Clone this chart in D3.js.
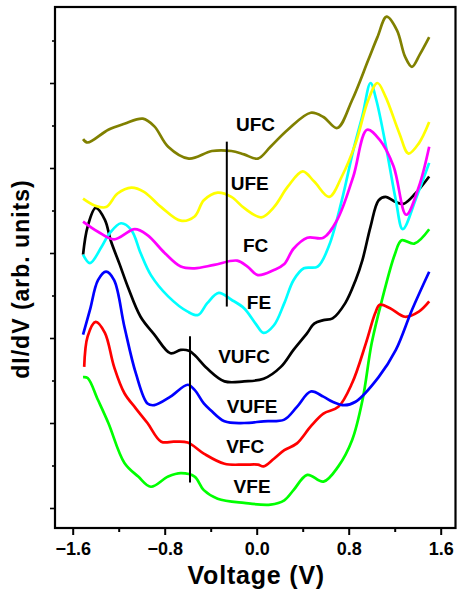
<!DOCTYPE html>
<html>
<head>
<meta charset="utf-8">
<script src="https://cdn.jsdelivr.net/npm/d3@7"></script>
<style>
  body { margin: 0; background: #fff; }
  svg { display: block; font-family: "Liberation Sans", Arial, sans-serif; }
</style>
</head>
<body>
<svg id="chart" width="457" height="595"></svg>
<script>
// spectra, [voltage, dI/dV (arb.)]
var ufc = [[-1.51,4.34],[-1.47,4.30],[-1.29,4.45],[-1.15,4.52],[-0.99,4.58],[-0.89,4.49],[-0.77,4.25],
  [-0.59,4.11],[-0.39,4.20],[-0.22,4.20],[-0.11,4.16],[0.01,4.11],[0.12,4.25],[0.27,4.45],[0.47,4.65],
  [0.58,4.60],[0.70,4.47],[0.83,4.80],[0.97,5.27],[1.05,5.54],[1.13,5.78],[1.22,5.62],[1.29,5.31],
  [1.35,5.19],[1.42,5.34],[1.50,5.54]];
var ufe = [[-1.51,3.64],[-1.41,3.56],[-1.31,3.54],[-1.21,3.70],[-1.09,3.77],[-0.98,3.72],[-0.83,3.54],
  [-0.66,3.38],[-0.54,3.43],[-0.46,3.62],[-0.34,3.71],[-0.22,3.66],[-0.11,3.53],[0.04,3.42],[0.15,3.54],
  [0.27,3.78],[0.40,3.96],[0.50,3.84],[0.63,3.66],[0.74,3.90],[0.86,4.29],[0.97,4.80],[1.05,5.00],
  [1.12,4.84],[1.24,4.41],[1.32,4.17],[1.41,4.29],[1.50,4.54]];
var fc = [[-1.51,3.37],[-1.38,3.25],[-1.24,3.16],[-1.06,3.28],[-0.95,3.21],[-0.80,3.00],[-0.66,2.84],
  [-0.54,2.82],[-0.37,2.86],[-0.17,2.91],[-0.08,2.84],[0.01,2.74],[0.15,2.80],[0.24,2.87],[0.32,3.05],
  [0.44,3.18],[0.58,3.18],[0.70,3.39],[0.84,3.90],[0.96,4.45],[1.07,4.33],[1.19,4.02],[1.30,3.45],
  [1.41,3.78],[1.50,4.25]];
var fe = [[-1.51,2.98],[-1.45,2.88],[-1.35,3.07],[-1.28,3.23],[-1.18,3.35],[-1.09,3.27],[-1.01,3.00],
  [-0.92,2.74],[-0.77,2.49],[-0.60,2.31],[-0.51,2.27],[-0.43,2.41],[-0.33,2.53],[-0.22,2.45],[-0.11,2.35],
  [-0.01,2.17],[0.06,2.06],[0.15,2.15],[0.24,2.41],[0.32,2.68],[0.41,2.82],[0.53,2.84],[0.63,3.09],
  [0.74,3.62],[0.84,4.21],[0.92,4.62],[0.99,5.00],[1.04,4.80],[1.13,4.21],[1.21,3.62],[1.27,3.28],
  [1.39,3.66],[1.50,4.06]];
var vufc = [[-1.51,2.98],[-1.47,3.31],[-1.40,3.53],[-1.32,3.39],[-1.27,3.15],[-1.19,2.86],[-1.12,2.60],
  [-1.01,2.25],[-0.89,2.04],[-0.75,1.82],[-0.66,1.86],[-0.59,1.85],[-0.54,1.80],[-0.43,1.64],[-0.28,1.49],
  [-0.11,1.49],[0.06,1.52],[0.21,1.66],[0.32,1.86],[0.44,2.06],[0.50,2.17],[0.58,2.21],[0.66,2.23],
  [0.77,2.41],[0.86,2.68],[0.92,2.92],[0.99,3.31],[1.06,3.62],[1.12,3.66],[1.21,3.60],[1.28,3.58],
  [1.38,3.70],[1.50,3.90]];
var vufe = [[-1.51,2.04],[-1.45,2.33],[-1.38,2.68],[-1.31,2.78],[-1.24,2.68],[-1.15,2.13],[-1.05,1.58],
  [-0.95,1.23],[-0.89,1.21],[-0.75,1.31],[-0.60,1.45],[-0.54,1.39],[-0.46,1.23],[-0.40,1.15],[-0.28,1.02],
  [-0.11,1.00],[0.06,1.02],[0.24,1.04],[0.35,1.19],[0.47,1.37],[0.58,1.31],[0.66,1.25],[0.76,1.21],
  [0.86,1.25],[1.06,1.54],[1.21,1.86],[1.35,2.33],[1.50,2.78]];
var vfc = [[-1.50,1.66],[-1.47,2.02],[-1.40,2.19],[-1.32,2.06],[-1.24,1.66],[-1.15,1.35],[-1.05,1.17],
  [-0.95,1.00],[-0.83,0.78],[-0.72,0.78],[-0.60,0.77],[-0.46,0.64],[-0.28,0.52],[-0.11,0.51],[0.01,0.51],
  [0.06,0.49],[0.15,0.58],[0.24,0.68],[0.35,0.76],[0.47,0.96],[0.58,1.11],[0.71,1.19],[0.83,1.47],
  [0.95,1.94],[1.03,2.29],[1.07,2.39],[1.16,2.35],[1.29,2.25],[1.41,2.31],[1.50,2.43]];
var vfe = [[-1.51,1.54],[-1.47,1.53],[-1.38,1.27],[-1.29,1.00],[-1.15,0.53],[-1.03,0.37],[-0.92,0.25],
  [-0.77,0.37],[-0.66,0.41],[-0.54,0.37],[-0.46,0.21],[-0.34,0.11],[-0.11,0.06],[0.12,0.04],[0.24,0.09],
  [0.32,0.21],[0.44,0.39],[0.58,0.31],[0.71,0.49],[0.83,0.80],[0.92,1.27],[1.00,1.94],[1.09,2.45],
  [1.20,2.98],[1.26,3.15],[1.37,3.11],[1.50,3.28]];

var names = ["VFE", "VFC", "VUFE", "VUFC", "FE", "FC", "UFE", "UFC"];
var spectra = [vfe, vfc, vufe, vufc, fe, fc, ufe, ufc];
var colors = ["#00ff00", "#ff0000", "#0000ff", "#000000", "#00ffff", "#ff00ff", "#ffff00", "#808000"];
// label anchors in data units
var labelAt = [[-0.04,0.25],[-0.10,0.72],[-0.04,1.19],[-0.11,1.78],[0.02,2.42],[-0.01,3.09],[-0.06,3.82],[-0.01,4.51]];
// the two guide lines: [voltage, from, to]
var guides = [[-0.26,4.31,2.37],[-0.58,2.02,0.30]];

var xMajor = [-1.6, -0.8, 0.0, 0.8, 1.6];
var xMinor = [-1.2, -0.4, 0.4, 1.2];
var yMajor = [0, 1, 2, 3, 4, 5];
var yMinor = [0.5, 1.5, 2.5, 3.5, 4.5, 5.5];

var svg = d3.select("#chart");
var box = {left: 55, right: 455.5, top: 7, bottom: 528};

var x = d3.scaleLinear().domain([-1.6, 1.6]).range([72.7, 440.7]);
var y = d3.scaleLinear().domain([0, 5]).range([508, 83]);

// ticks
function xaxis(vals, len, labels) {
	var ax = d3.axisBottom(x).tickValues(vals).tickSizeInner(len).tickSizeOuter(0)
		.tickPadding(5).tickFormat(labels ? d3.format(".1f") : "");
	var g = svg.append("g").attr("transform", "translate(0," + box.bottom + ")").call(ax);
	g.select(".domain").remove();
	g.selectAll("line").attr("stroke", "#000").attr("stroke-width", 2);
	return g;
}
function yaxis(vals, len) {
	var ax = d3.axisLeft(y).tickValues(vals).tickSizeInner(len).tickSizeOuter(0).tickFormat("");
	var g = svg.append("g").attr("transform", "translate(" + box.left + ",0)").call(ax);
	g.select(".domain").remove();
	g.selectAll("line").attr("stroke", "#000").attr("stroke-width", 1.6);
	return g;
}
xaxis(xMinor, 4, false);
var xg = xaxis(xMajor, 7, true);
xg.selectAll("text")
	.attr("font-family", "Liberation Sans, Arial, sans-serif")
	.attr("font-size", 18).attr("font-weight", "bold").attr("fill", "#000")
	.attr("dy", "0.85em");
yaxis(yMinor, 3);
yaxis(yMajor, 5);

// curves
var line = d3.line()
	.x(function(d) { return x(d[0]); })
	.y(function(d) { return y(d[1]); })
	.curve(d3.curveCatmullRom.alpha(0.5));

svg.append("g").attr("id", "spectra")
	.selectAll("path").data(spectra).enter().append("path")
	.attr("d", line)
	.attr("fill", "none")
	.attr("stroke", function(d, i) { return colors[i]; })
	.attr("stroke-width", 2.7)
	.attr("stroke-linejoin", "round");

svg.append("g").selectAll("line").data(guides).enter().append("line")
	.attr("x1", function(d) { return x(d[0]); })
	.attr("x2", function(d) { return x(d[0]); })
	.attr("y1", function(d) { return y(d[1]); })
	.attr("y2", function(d) { return y(d[2]); })
	.attr("stroke", "#000").attr("stroke-width", 2);

svg.append("g").selectAll("text").data(names).enter().append("text")
	.attr("x", function(d, i) { return x(labelAt[i][0]); })
	.attr("y", function(d, i) { return y(labelAt[i][1]); })
	.attr("text-anchor", "middle")
	.attr("dominant-baseline", "central")
	.attr("font-size", 19).attr("font-weight", "bold")
	.text(function(d) { return d; });

// frame
svg.append("rect")
	.attr("x", box.left).attr("y", box.top)
	.attr("width", box.right - box.left).attr("height", box.bottom - box.top)
	.attr("fill", "none").attr("stroke", "#000").attr("stroke-width", 2.2);

// axis titles
svg.append("text")
	.attr("x", (box.left + box.right) / 2 + 1).attr("y", 584)
	.attr("text-anchor", "middle")
	.attr("font-size", 25).attr("font-weight", "bold").attr("letter-spacing", 0.8)
	.text("Voltage (V)");

svg.append("text")
	.attr("transform", "translate(29,279) rotate(-90)")
	.attr("text-anchor", "middle")
	.attr("font-size", 23).attr("font-weight", "bold").attr("letter-spacing", 1)
	.text("dI/dV (arb. units)");
</script>
</body>
</html>
